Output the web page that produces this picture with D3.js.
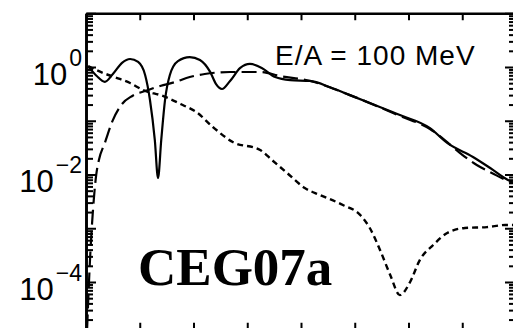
<!DOCTYPE html>
<html>
<head>
<meta charset="utf-8">
<script src="https://cdn.jsdelivr.net/npm/d3@7"></script>
<style>
  body { margin: 0; background: #fff; }
  svg { display: block; }
</style>
</head>
<body>
<div id="chart"></div>
<script>
// curves: x in axis units (0..8), y on a log scale
const solidX = [0.04, 0.20, 0.35, 0.50, 0.67, 0.82, 0.97, 1.10, 1.19, 1.28, 1.34, 1.40, 1.47, 1.56, 1.71, 1.93, 2.12, 2.31, 2.42, 2.53, 2.68, 2.87, 3.05, 3.27, 3.52, 3.80, 4.17, 4.54, 4.91, 5.28, 5.84, 6.40, 6.72, 7.20, 7.52, 7.85, 8.0];
const solidY = [1.04, 0.68, 0.53, 0.74, 1.19, 1.41, 1.24, 0.71, 0.243, 0.0439, 0.0086, 0.0439, 0.243, 0.71, 1.29, 1.53, 1.35, 0.81, 0.48, 0.39, 0.55, 0.96, 1.14, 0.96, 0.65, 0.57, 0.55, 0.42, 0.30, 0.214, 0.128, 0.073, 0.0386, 0.0212, 0.0132, 0.0079, 0.0067];

const dashX = [0.02, 0.07, 0.13, 0.19, 0.24, 0.35, 0.50, 0.67, 0.86, 1.10, 1.38, 1.66, 1.93, 2.21, 2.68, 3.24, 3.61, 4.17, 4.91, 5.84, 6.40, 6.72, 6.96, 7.27, 7.55, 7.85, 8.0];
const dashY = [1.3e-5, 2.1e-4, 2.2e-3, 0.0098, 0.0186, 0.0386, 0.103, 0.205, 0.289, 0.357, 0.443, 0.526, 0.652, 0.741, 0.807, 0.807, 0.68, 0.55, 0.30, 0.123, 0.0702, 0.0402, 0.0251, 0.0150, 0.0107, 0.00757, 0.0067];

const dotX = [0.04, 0.32, 0.58, 0.82, 1.06, 1.43, 1.80, 2.05, 2.36, 2.73, 3.24, 3.46, 3.74, 4.07, 4.35, 4.78, 5.10, 5.28, 5.47, 5.66, 5.84, 6.03, 6.21, 6.46, 6.72, 7.05, 7.46, 7.80, 8.0];
const dotY = [1.04, 0.773, 0.624, 0.504, 0.373, 0.289, 0.196, 0.146, 0.0765, 0.0402, 0.0286, 0.0186, 0.0107, 0.00561, 0.00416, 0.00271, 0.00177, 0.00101, 3.94e-4, 1.35e-4, 5.7e-5, 1.0e-4, 2.56e-4, 4.88e-4, 8.17e-4, 1.01e-3, 1.05e-3, 1.15e-3, 1.15e-3];

const xTicks = [1, 2, 3, 4, 5, 6, 7];
const yDecades = [-5, -4, -3, -2, -1, 0, 1];
const yLabelExps = ["0", "\u22122", "\u22124"];
const yLabelVals = [1, 1e-2, 1e-4];
const energyLabel = "E/A = 100 MeV";
const figTag = "CEG07a";

var width = 513, height = 328;

var svg = d3.select("#chart").append("svg")
    .attr("width", width)
    .attr("height", height);

svg.append("rect").attr("width", width).attr("height", height).attr("fill", "#fff");

var x = d3.scaleLinear().domain([0, 8]).range([86, 516]);
var y = d3.scaleLog().domain([1e-5, 10]).range([335.75, 13.25]);

var majors = yDecades.map(d => Math.pow(10, d));
var minors = [];
yDecades.slice(0, -1).forEach(d => {
    for (var k = 2; k <= 9; k++) minors.push(k * Math.pow(10, d));
});

// clip for the curves
svg.append("defs").append("clipPath").attr("id", "clip")
    .append("rect")
    .attr("x", x(0)).attr("y", y(10))
    .attr("width", x(8) - x(0)).attr("height", y(1e-5) - y(10));

var plot = svg.append("g").attr("clip-path", "url(#clip)");

var line = d3.line()
    .x(d => x(d[0]))
    .y(d => y(d[1]))
    .curve(d3.curveMonotoneX);

plot.append("path")
    .datum(d3.zip(dotX, dotY))
    .attr("d", line)
    .attr("fill", "none").attr("stroke", "#000")
    .attr("stroke-width", 2.4)
    .attr("stroke-dasharray", "6,4");

plot.append("path")
    .datum(d3.zip(dashX, dashY))
    .attr("d", line)
    .attr("fill", "none").attr("stroke", "#000")
    .attr("stroke-width", 2.2)
    .attr("stroke-dasharray", "15,6");

plot.append("path")
    .datum(d3.zip(solidX, solidY))
    .attr("d", line)
    .attr("fill", "none").attr("stroke", "#000")
    .attr("stroke-width", 2.2);

// axes, ticks point inwards
function styleAxis(g) {
    g.select(".domain").attr("stroke", "#000").attr("stroke-width", 2.6);
    g.selectAll(".tick line").attr("stroke", "#000").attr("stroke-width", 2);
}

svg.append("g").attr("transform", "translate(" + x(0) + ",0)")
    .call(d3.axisLeft(y).tickValues(majors).tickSize(-10).tickSizeOuter(0).tickFormat(""))
    .call(styleAxis);
svg.append("g").attr("transform", "translate(" + x(0) + ",0)")
    .call(d3.axisLeft(y).tickValues(minors).tickSize(-7).tickSizeOuter(0).tickFormat(""))
    .call(styleAxis);

svg.append("g").attr("transform", "translate(" + x(8) + ",0)")
    .call(d3.axisRight(y).tickValues(majors).tickSize(-11).tickSizeOuter(0).tickFormat(""))
    .call(styleAxis);
svg.append("g").attr("transform", "translate(" + x(8) + ",0)")
    .call(d3.axisRight(y).tickValues(minors).tickSize(-7).tickSizeOuter(0).tickFormat(""))
    .call(styleAxis);

svg.append("g").attr("transform", "translate(0," + y(10) + ")")
    .call(d3.axisTop(x).tickValues(xTicks).tickSize(-7).tickSizeOuter(0).tickFormat(""))
    .call(styleAxis);
svg.append("g").attr("transform", "translate(0," + y(1e-5) + ")")
    .call(d3.axisBottom(x).tickValues(xTicks).tickSize(-13).tickSizeOuter(0).tickFormat(""))
    .call(styleAxis);

// y tick labels 10^n
yLabelVals.forEach((v, i) => {
    var base = y(v) + 17.5;
    var sup = svg.append("text")
        .attr("x", x(0) - 4).attr("y", base - 19)
        .attr("text-anchor", "end")
        .style("font-family", "'Liberation Sans', Arial, Helvetica, sans-serif")
        .style("font-size", "23px")
        .text(yLabelExps[i]);
    var bb = sup.node().getBBox();
    svg.append("text")
        .attr("x", bb.x - 2).attr("y", base)
        .attr("text-anchor", "end")
        .style("font-family", "'Liberation Sans', Arial, Helvetica, sans-serif")
        .style("font-size", "31px")
        .text("10");
});

svg.append("text")
    .attr("x", 275).attr("y", 65)
    .style("font-family", "'Liberation Sans', Arial, Helvetica, sans-serif")
    .style("font-size", "28px")
    .style("letter-spacing", "1px")
    .text(energyLabel);

// tag box
svg.append("rect")
    .attr("x", 118).attr("y", 225)
    .attr("width", 237).attr("height", 85)
    .attr("fill", "#fff");
svg.append("text")
    .attr("x", 138).attr("y", 285)
    .style("font-family", "'Liberation Serif', 'Times New Roman', serif")
    .style("font-weight", "bold")
    .style("font-size", "53px")
    .text(figTag);
</script>
</body>
</html>
